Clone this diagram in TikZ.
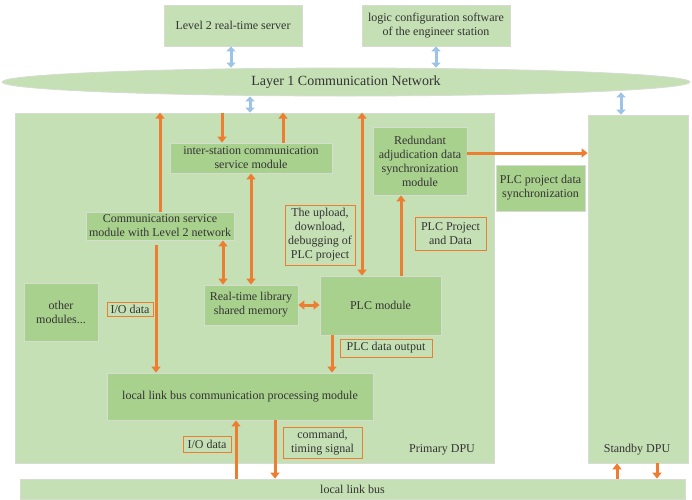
\documentclass[tikz,border=0pt]{standalone}
\usepackage{fontspec}
\setmainfont{Liberation Serif}
\usetikzlibrary{arrows.meta,shapes.geometric}
\definecolor{bgreen}{HTML}{C5E0B4}
\definecolor{mgreen}{HTML}{A9D18E}
\definecolor{oarrow}{HTML}{ED7D31}
\definecolor{barrow}{HTML}{9DC3E6}
\definecolor{edge}{HTML}{D6DCD2}
\definecolor{ink}{HTML}{333333}
\begin{document}
\begin{tikzpicture}[x=1pt,y=-1pt,
  txt/.style={text=ink,font=\fontsize{12}{14}\selectfont,align=center,inner sep=0pt},
  panel/.style={txt,fill=bgreen,draw=edge,line width=0.8pt},
  module/.style={txt,fill=mgreen,draw=edge,line width=0.8pt},
  tag/.style={txt,draw=oarrow,line width=0.9pt},
  oarr/.style={draw=oarrow,line width=3pt,-{Triangle[width=9pt,length=6pt]}},
  oboth/.style={draw=oarrow,line width=3pt,{Triangle[width=9pt,length=6pt]}-{Triangle[width=9pt,length=6pt]}},
  barr/.style={draw=barrow,line width=3pt,{Triangle[width=9pt,length=5pt]}-{Triangle[width=9pt,length=5pt]}}]
\useasboundingbox[fill=white] (0,0) rectangle (692,499);

% outer units and bus
\node[panel,minimum width=479pt,minimum height=350pt] (dpu) at (254.5,288) {};
\node[panel,minimum width=100pt,minimum height=348pt] (sdpu) at (638,289) {};
\node[panel,minimum width=665pt,minimum height=20pt] (bus) at (352.5,489) {local link bus};
\node[txt] (plab) at (442,450) {Primary DPU};
\node[txt] (slab) at (637,450) {Standby DPU};

% upper level
\node[panel,minimum width=138pt,minimum height=41pt] (l2) at (233,25.5) {Level 2 real-time server};
\node[panel,minimum width=148pt,minimum height=41pt] (eng) at (436,25.5) {logic configuration software\\of the engineer station};
\node[txt,font=\fontsize{14}{16}\selectfont,ellipse,fill=bgreen,draw=edge,line width=0.8pt,minimum width=688pt,minimum height=28pt] (net) at (346,82) {Layer 1 Communication Network};

% modules of the primary unit
\node[module,minimum width=162pt,minimum height=30pt] (is) at (251,158) {inter-station communication\\service module};
\node[module,minimum width=148pt,minimum height=28pt] (cs) at (160,226) {Communication service\\module with Level 2 network};
\node[module,minimum width=94pt,minimum height=68pt] (rad) at (420,161) {Redundant\\adjudication data\\synchronization\\module};
\node[module,minimum width=89pt,minimum height=46pt] (psync) at (540.5,188) {PLC project data\\synchronization};
\node[module,minimum width=74pt,minimum height=58pt] (oth) at (61,312) {other\\modules...};
\node[module,minimum width=94pt,minimum height=40pt] (rtl) at (251,305) {Real-time library\\shared memory};
\node[module,minimum width=121pt,minimum height=59pt] (plc) at (380.5,305.5) {PLC module};
\node[module,minimum width=266pt,minimum height=47pt] (llm) at (240,396.5) {local link bus communication processing module};

% flow labels
\node[tag,minimum width=70pt,minimum height=60pt] (upl) at (320,235) {The upload,\\download,\\debugging of\\PLC project};
\node[tag,minimum width=71pt,minimum height=33pt] (pd) at (450.5,233.5) {PLC Project\\and Data};
\node[tag,minimum width=46pt,minimum height=14pt] (io1) at (130,309) {I/O data};
\node[tag,minimum width=92pt,minimum height=18pt] (pdo) at (386,348) {PLC data output};
\node[tag,minimum width=48pt,minimum height=16pt] (io2) at (207,444) {I/O data};
\node[tag,minimum width=79pt,minimum height=31pt] (cmd) at (322.5,442.5) {command,\\timing signal};

% network links
\coordinate (b1) at ([xshift=-2pt]l2.south);
\draw[barr] (b1) -- (b1 |- net.north);
\draw[barr] (eng.south) -- (eng.south |- net.north);
\coordinate (b3) at ([xshift=-4.5pt]dpu.north);
\draw[barr] (b3 |- net.south) -- (b3);
\coordinate (b4) at ([xshift=-17pt]sdpu.north);
\path (b4 |- net.south) coordinate (b4n);
\draw[barr] ([yshift=4pt]b4n) -- (b4);

% internal data flow
\draw[oarr] (cs.north) -- (cs.north |- dpu.north);
\coordinate (a2) at ([xshift=-29pt]is.north);
\draw[oarr] (a2 |- dpu.north) -- (a2);
\coordinate (a3) at ([xshift=32pt]is.north);
\draw[oarr] (a3) -- (a3 |- dpu.north);
\coordinate (a4) at ([xshift=-18.5pt]plc.north);
\draw[oboth] (a4) -- (a4 |- dpu.north);
\draw[oboth] (is.south) -- (rtl.north);
\coordinate (a6) at ([xshift=-28pt]rtl.north);
\draw[oboth] (a6 |- cs.south) -- (a6);
\coordinate (a7) at ([xshift=-4pt,yshift=-5pt]cs.south);
\draw[oarr] (a7) -- (a7 |- llm.north);
\draw[oboth] (rtl.east) -- (plc.west |- rtl.east);
\coordinate (a9) at ([xshift=-48.5pt]plc.south);
\draw[oarr] (a9) -- (a9 |- llm.north);
\coordinate (a10) at ([xshift=-19pt]rad.south);
\draw[oarr] (a10 |- plc.north) -- (a10);
\coordinate (a11) at ([yshift=8pt]rad.east);
\draw[oarr] (a11) -- (a11 -| sdpu.west);
\coordinate (a12) at ([xshift=-4pt]llm.south);
\draw[oarr] (a12 |- bus.north) -- (a12);
\coordinate (a13) at ([xshift=35pt]llm.south);
\draw[oarr] (a13) -- (a13 |- bus.north);
\coordinate (a14) at ([xshift=-21pt]sdpu.south);
\draw[oarr] (a14 |- bus.north) -- (a14);
\coordinate (a15) at ([xshift=19pt]sdpu.south);
\draw[oarr] (a15) -- (a15 |- bus.north);
\end{tikzpicture}
\end{document}
